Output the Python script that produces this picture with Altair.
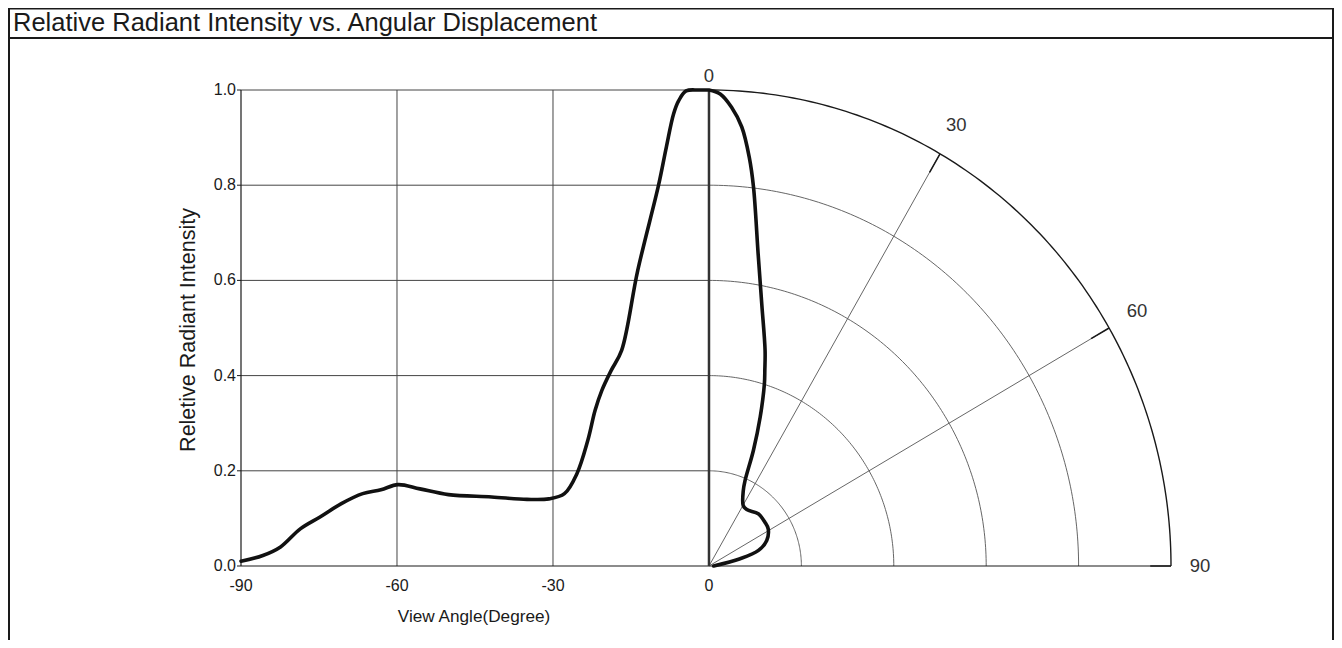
import altair as alt
import numpy as np
import pandas as pd

# ---------------- data ----------------
title_text = "Relative Radiant Intensity vs. Angular Displacement"
x_title = "View Angle(Degree)"
y_title = "Reletive Radiant Intensity"

# Cartesian half: view angle (deg) vs relative intensity
left_angle = [-90, -85.8, -82.4, -78.6, -74.8, -70.7, -66.6, -63.1, -59.8, -55.6,
              -50.1, -41.8, -35.0, -30.8, -27.8, -25.4, -23.3, -21.9, -20.6, -18.8,
              -16.8, -13.7, -9.7, -8.2, -6.8, -5.8, -4.4, -2.0, 0.0]
left_intensity = [0.010, 0.022, 0.040, 0.078, 0.103, 0.131, 0.152, 0.160, 0.171, 0.162,
                  0.150, 0.145, 0.140, 0.141, 0.152, 0.194, 0.264, 0.327, 0.369, 0.411,
                  0.453, 0.621, 0.800, 0.880, 0.950, 0.978, 0.998, 1.000, 1.000]

# Polar half: angle (deg from vertical) vs relative intensity
polar_angle = [0, 1.4, 2.9, 4.4, 5.8, 6.9, 9.2, 11.7, 15.0, 16.4, 17.4, 19.5, 21.6,
               23.5, 25.1, 30.3, 34.6, 44.2, 52.8, 58.7, 66.8, 73.0, 77.3, 90]
polar_intensity = [1.000, 0.992, 0.965, 0.925, 0.863, 0.802, 0.665, 0.563, 0.469, 0.428,
                   0.401, 0.332, 0.261, 0.196, 0.175, 0.147, 0.144, 0.153, 0.152, 0.150,
                   0.136, 0.112, 0.069, 0.010]

x_ticks = [-90, -60, -30, 0]
x_tick_labels = ["-90", "-60", "-30", "0"]
y_ticks = [0.0, 0.2, 0.4, 0.6, 0.8, 1.0]
y_tick_labels = ["0.0", "0.2", "0.4", "0.6", "0.8", "1.0"]
x_grid = [-60, -30]
ring_radii = [0.2, 0.4, 0.6, 0.8]
spoke_angles = [30, 60]
polar_label_angles = [0, 30, 60, 90]
polar_labels = ["0", "30", "60", "90"]

# ---------------- geometry / layout ----------------
K = 88.85           # x-units per unit radius in the polar quadrant
X_MIN, X_MAX = -90, K
PX = 5.2            # px per x-unit
W = round((X_MAX - X_MIN) * PX)
H = 476
PAD_L, PAD_T = 233, 82
PAD_R = 1326 - PAD_L - W
PAD_B = 632 - PAD_T - H
OX, OY = 241, 90    # page position of the plot origin

xs = alt.Scale(domain=[X_MIN, X_MAX], nice=False, zero=False)
ys = alt.Scale(domain=[0, 1], nice=False, zero=False)
FONT = "Liberation Sans"
GRID = "#444444"
INK = "#1a1a1a"


def X(f="x"):
    return alt.X(f"{f}:Q", scale=xs, axis=None)


def Y(f="y"):
    return alt.Y(f"{f}:Q", scale=ys, axis=None)


# curve: cartesian part then polar part
th = np.radians(polar_angle)
r = np.array(polar_intensity)
curve = pd.DataFrame({
    "x": list(left_angle) + list(K * r * np.sin(th)),
    "y": list(left_intensity) + list(r * np.cos(th)),
})
curve["order"] = range(len(curve))

hgrid = pd.DataFrame({"y": y_ticks[1:], "x": x_ticks[0], "x2": x_ticks[-1]})
vgrid = pd.DataFrame({"x": x_grid, "y": 0.0, "y2": 1.0})

t = np.radians(np.linspace(0, 90, 121))
rings = pd.concat([
    pd.DataFrame({"x": K * rr * np.sin(t), "y": rr * np.cos(t), "ring": rr, "o": range(len(t))})
    for rr in ring_radii
])
outer = pd.DataFrame({"x": K * np.sin(t), "y": np.cos(t), "o": range(len(t))})

sa = np.radians(spoke_angles)
spokes = pd.DataFrame({"x": 0.0, "y": 0.0, "x2": K * np.sin(sa), "y2": np.cos(sa)})
ta = np.radians(spoke_angles + [90])
spoke_ticks = pd.DataFrame({"x": K * 0.955 * np.sin(ta), "y": 0.955 * np.cos(ta),
                            "x2": K * np.sin(ta), "y2": np.cos(ta)})

label_radius = {0: 1.03, 30: 1.07, 60: 1.07, 90: 1.063}
la = np.radians(polar_label_angles)
lr = np.array([label_radius[a] for a in polar_label_angles])
plabels = pd.DataFrame({"x": K * lr * np.sin(la), "y": lr * np.cos(la), "label": polar_labels})

one = pd.DataFrame({"a": [0]})

# ---------------- layers ----------------
hg = alt.Chart(hgrid).mark_rule(color=GRID, strokeWidth=1).encode(x=X(), x2="x2:Q", y=Y())
vg = alt.Chart(vgrid).mark_rule(color=GRID, strokeWidth=1).encode(x=X(), y=Y(), y2="y2:Q")

ring_l = alt.Chart(rings).mark_line(color="#555", strokeWidth=0.9).encode(
    x=X(), y=Y(), detail="ring:N", order="o:Q")
outer_l = alt.Chart(outer).mark_line(color=INK, strokeWidth=1.4).encode(
    x=X(), y=Y(), order="o:Q")
spoke_l = alt.Chart(spokes).mark_rule(color="#555", strokeWidth=0.9).encode(
    x=X(), y=Y(), x2="x2:Q", y2="y2:Q")
spoke_t = alt.Chart(spoke_ticks).mark_rule(color=INK, strokeWidth=1.5).encode(
    x=X(), y=Y(), x2="x2:Q", y2="y2:Q")

# axes drawn as marks
y_dom = alt.Chart(pd.DataFrame({"x": [x_ticks[0]], "y": [0.0], "y2": [1.0]})).mark_rule(
    color=INK, strokeWidth=1.2).encode(x=X(), y=Y(), y2="y2:Q")
x_dom = alt.Chart(pd.DataFrame({"x": [X_MIN], "x2": [X_MAX], "y": [0.0]})).mark_rule(
    color=INK, strokeWidth=1.2).encode(x=X(), x2="x2:Q", y=Y())
y_tk = alt.Chart(pd.DataFrame({"y": y_ticks, "x": x_ticks[0], "x2": x_ticks[0] - 4 / PX})).mark_rule(
    color=INK, strokeWidth=1).encode(x=X(), x2="x2:Q", y=Y())
y_lab = alt.Chart(pd.DataFrame({"y": y_ticks, "x": x_ticks[0], "t": y_tick_labels})).mark_text(
    font=FONT, fontSize=16, color=INK, align="right", baseline="middle", dx=-5).encode(
    x=X(), y=Y(), text="t:N")
x_lab = alt.Chart(pd.DataFrame({"x": x_ticks, "y": 0.0, "t": x_tick_labels})).mark_text(
    font=FONT, fontSize=16, color=INK, align="center", baseline="middle", dy=20).encode(
    x=X(), y=Y(), text="t:N")
x_tit = alt.Chart(pd.DataFrame({"t": [x_title]})).mark_text(
    font=FONT, fontSize=17.2, color=INK, align="center", baseline="middle").encode(
    x=alt.value(474 - OX), y=alt.value(617 - OY), text="t:N")
y_tit = alt.Chart(pd.DataFrame({"t": [y_title]})).mark_text(
    font=FONT, fontSize=21.5, color=INK, align="center", baseline="middle", angle=270).encode(
    x=alt.value(189 - OX), y=alt.value(330 - OY), text="t:N")

zero_axis = alt.Chart(pd.DataFrame({"x": [0.0], "y": [0.0], "y2": [1.0]})).mark_rule(
    color="#333", strokeWidth=2.5).encode(x=X(), y=Y(), y2="y2:Q")

curve_l = alt.Chart(curve).mark_line(color="#111", strokeWidth=3.6,
                                      interpolate="catmull-rom", strokeJoin="round",
                                      strokeCap="round").encode(
    x=X(), y=Y(), order="order:Q")

label_l = alt.Chart(plabels).mark_text(font=FONT, fontSize=18.5, color="#333",
                                       align="center", baseline="middle").encode(
    x=X(), y=Y(), text="label:N")


def rule_px(x, x2, y, y2, w=1.5):
    return alt.Chart(one).mark_rule(color=INK, strokeWidth=w).encode(
        x=alt.value(x), x2=alt.value(x2), y=alt.value(y), y2=alt.value(y2))


frame = [
    rule_px(9 - OX, 9 - OX, 8 - OY, 640 - OY, 2),
    rule_px(1333 - OX, 1333 - OX, 8 - OY, 640 - OY, 2),
    rule_px(8 - OX, 1334 - OX, 8.75 - OY, 8.75 - OY, 1.5),
    rule_px(8 - OX, 1334 - OX, 38 - OY, 38 - OY, 1.8),
]
title_l = alt.Chart(pd.DataFrame({"t": [title_text]})).mark_text(
    font=FONT, fontSize=25.5, color=INK, align="left", baseline="alphabetic").encode(
    x=alt.value(13 - OX), y=alt.value(31.3 - OY), text="t:N")

chart = alt.layer(
    hg, vg, ring_l, spoke_l, outer_l, spoke_t, y_dom, x_dom, y_tk, zero_axis,
    curve_l, y_lab, x_lab, x_tit, y_tit, label_l, *frame, title_l
).properties(
    width=W, height=H,
    autosize=alt.AutoSizeParams(type="none"),
    padding={"left": PAD_L, "top": PAD_T, "right": PAD_R, "bottom": PAD_B},
    background="white",
).configure_view(stroke="transparent")

chart.save("out.html", embed_options={"renderer": "svg", "actions": False})
